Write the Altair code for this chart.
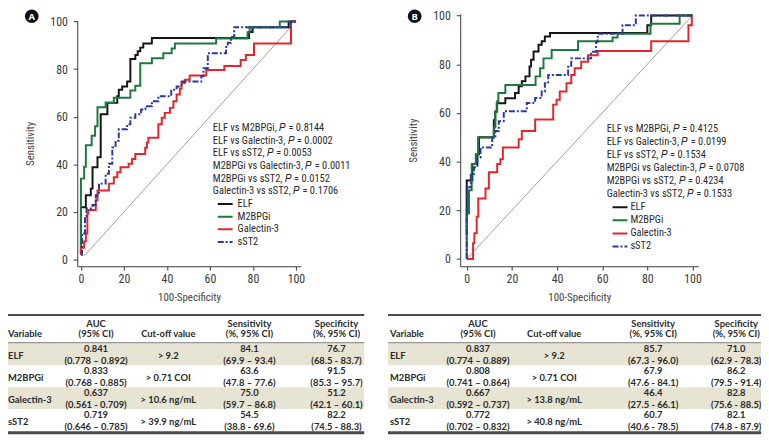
import altair as alt
import pandas as pd

W, H = 761, 434

# ------------------------------------------------------------------ data
SERIES = ["ELF", "M2BPGi", "Galectin-3", "sST2"]
TICKS = [0, 20, 40, 60, 80, 100]

# Panel A ROC curves (100-specificity, sensitivity) step vertices
A_ELF_X = [0, 0, 2.3, 4.6, 5.4, 7.7, 9.2, 12.3, 16.9, 17.6, 19.2, 21.5, 23, 25.3, 26.4, 27.6, 29, 33, 78.2, 79.8, 96.6, 100]
A_ELF_Y = [2, 22, 27, 29.8, 38.8, 43, 61, 65.8, 68.6, 71.3, 72.7, 74.8, 84.2, 85.9, 87.5, 89, 90.7, 93, 95.6, 97.6, 100, 100]
A_M2_X = [0, 0, 1.5, 2.3, 5, 6.6, 7.7, 11.5, 15.3, 23, 25.3, 27.6, 33, 38.3, 42.2, 43.7, 62.9, 77.5, 78.5, 92.5, 100]
A_M2_Y = [2, 34, 39, 48, 52, 56, 64, 66, 68, 71, 73, 82.4, 84.5, 86.6, 88.6, 90.7, 92.8, 95.5, 97.6, 100, 100]
A_GAL_X = [0, 0, 1.5, 2.3, 3, 3.5, 6.9, 7.7, 13, 15.3, 16.9, 18.4, 22.2, 23.8, 25.3, 29.9, 30.7, 31.4, 36, 37.6, 39, 41.4, 43, 44.5, 46, 46.8, 48.3, 50.6, 58.3, 66.7, 74.3, 76.7, 80.5, 97.7, 100]
A_GAL_Y = [2, 5, 7.6, 11, 19.4, 20.8, 24.9, 29, 31.9, 34.6, 36.7, 38.8, 40.2, 42.2, 44.3, 47, 49.2, 51.2, 56.8, 59.6, 61.6, 63.7, 66.5, 69.3, 71.7, 74.1, 75.5, 77.3, 79.6, 81.3, 83.8, 85.9, 90.7, 100, 100]
A_SST_X = [0, 0.5, 1.9, 2.6, 5.4, 6.9, 8.4, 11.5, 13, 14.6, 16.1, 17.6, 21.5, 23, 25.3, 28, 30, 33, 36, 42, 44.5, 46.8, 56, 57, 59, 67.5, 68.3, 69.8, 71.3, 97.4, 100]
A_SST_Y = [2, 11, 18, 21.5, 22.9, 27, 31.9, 36, 40.2, 47.1, 49.9, 54.7, 56.8, 59.6, 61, 63, 64.4, 66.5, 68.6, 71.3, 72.7, 74.8, 77, 80.3, 86.6, 89.3, 91, 93.5, 97.6, 100, 100]
A_DIAG = [1.5, 97.5]

# Panel B ROC curves
B_ELF_X = [0, 0, 2.5, 4.7, 5.4, 12, 12.6, 13.3, 17.1, 21.4, 23, 24.4, 26, 27.8, 28.5, 29.6, 31.8, 33.2, 34.6, 36.9, 80, 81.7, 100]
B_ELF_Y = [10, 32.2, 39, 43, 50, 57, 60.5, 64, 66, 68.2, 70.9, 73, 75, 79.1, 81.8, 85.2, 88, 89.4, 91.4, 92.8, 96, 100, 100]
B_M2_X = [0, 0, 1, 2.2, 4, 5, 12, 12.7, 13.5, 14, 17.1, 30.5, 32.5, 34, 37.6, 49.3, 64.6, 66.8, 81.4, 94.3, 100]
B_M2_Y = [0, 18.7, 28.2, 39, 43, 49.9, 54, 60.7, 64.8, 68.2, 71.5, 75, 78.3, 82.4, 85.8, 89.4, 91, 92.5, 96.6, 100, 100]
B_GAL_X = [0, 2.8, 3.4, 4.4, 5.1, 8.3, 9.8, 13.5, 14.9, 16, 23, 24.4, 30.3, 38.3, 39.8, 41.2, 44.2, 46.3, 47.8, 50.7, 53.7, 58, 81.7, 98.2, 99.7, 100]
B_GAL_Y = [0, 6.5, 10.6, 17.3, 24.8, 28.9, 35.6, 39, 41, 45.8, 49.2, 52.6, 57.3, 63.4, 65.4, 68.8, 72.2, 75.6, 78.3, 81, 83.7, 85.4, 89.4, 96, 100, 100]
B_SST_X = [0, 0, 1.8, 3.2, 4.7, 6.1, 11.3, 12.7, 14.2, 16.4, 26.6, 30.3, 33.2, 34.6, 36.1, 44.9, 46.3, 55.1, 57.3, 58, 69, 74.9, 100]
B_SST_Y = [0, 29.5, 35, 37.7, 41.7, 45.8, 49.9, 52.6, 56.6, 60.7, 64.1, 66.1, 68.8, 72.2, 75.6, 79, 82.4, 85.1, 89.2, 92.5, 96, 100, 100]
B_DIAG = [0, 100]

COMPARISONS = ["ELF vs M2BPGi", "ELF vs Galectin-3", "ELF vs sST2",
               "M2BPGi vs Galectin-3", "M2BPGi vs sST2", "Galectin-3 vs sST2"]
A_P = ["0.8144", "0.0002", "0.0053", "0.0011", "0.0152", "0.1706"]
B_P = ["0.4125", "0.0199", "0.1534", "0.0708", "0.4234", "0.1533"]

HEAD_1 = ["Variable", "AUC", "Cut-off value", "Sensitivity", "Specificity"]
HEAD_2 = ["", "(95% CI)", "", "(%, 95% CI)", "(%, 95% CI)"]

A_AUC = ["0.841", "0.833", "0.637", "0.719"]
A_AUC_CI = ["(0.778 \u2013 0.892)", "(0.768 - 0.885)", "(0.561 - 0.709)", "(0.646 \u2013 0.785)"]
A_CUT = ["> 9.2", "> 0.71 COI", "> 10.6 ng/mL", "> 39.9 ng/mL"]
A_SENS = ["84.1", "63.6", "75.0", "54.5"]
A_SENS_CI = ["(69.9 \u2013 93.4)", "(47.8 \u2013 77.6)", "(59.7 \u2013 86.8)", "(38.8 - 69.6)"]
A_SPEC = ["76.7", "91.5", "51.2", "82.2"]
A_SPEC_CI = ["(68.5 - 83.7)", "(85.3 \u2013 95.7)", "(42.1 \u2013 60.1)", "(74.5 - 88.3)"]

B_AUC = ["0.837", "0.808", "0.667", "0.772"]
B_AUC_CI = ["(0.774 \u2013 0.889)", "(0.741 \u2013 0.864)", "(0.592 \u2013 0.737)", "(0.702 \u2013 0.832)"]
B_CUT = ["> 9.2", "> 0.71 COI", "> 13.8 ng/mL", "> 40.8 ng/mL"]
B_SENS = ["85.7", "67.9", "46.4", "60.7"]
B_SENS_CI = ["(67.3 - 96.0)", "(47.6 - 84.1)", "(27.5 - 66.1)", "(40.6 - 78.5)"]
B_SPEC = ["71.0", "86.2", "82.8", "82.1"]
B_SPEC_CI = ["(62.9 - 78.3)", "(79.5 - 91.4)", "(75.6 - 88.5)", "(74.8 - 87.9)"]

# ------------------------------------------------------------------ style
COLORS = ["#151515", "#1d7a3e", "#e3262c", "#283a9c"]
DASHES = [[1, 0], [1, 0], [1, 0], [6, 2, 2, 2]]
NARROW = "Liberation Sans Narrow, Arial Narrow, Roboto Condensed, DejaVu Sans Condensed, sans-serif"
TFONT = "Lato"
TXT = "#2a2a2a"
AXC = "#3a3a3a"
SHADE = "#e8e4d3"

COLOR = alt.Color("series:N", scale=alt.Scale(domain=SERIES, range=COLORS), legend=None)
DASH = alt.StrokeDash("series:N", scale=alt.Scale(domain=SERIES, range=DASHES), legend=None)

GEO_A = dict(xdom=[-1.7, 102.3], xrng=[70, 296], ydom=[-2.8, 100.4], yrng=[258.7, 10.3],
             ann_x=207, ann_y=[119, 234.2], leg_x=[212, 227], leg_tx=232, badge=(24, 6), letter="A",
             tx0=0, tx1=360, cols=[0, 89, 162, 244, 332])
GEO_B = dict(xdom=[-2.9, 102.6], xrng=[457, 697.7], ydom=[-3.0, 100.65], yrng=[258.7, 3.7],
             ann_x=605, ann_y=[119.7, 238.7], leg_x=[611, 626], leg_tx=629, badge=(411, 6), letter="B",
             tx0=384, tx1=761, cols=[386, 475, 552, 652, 736])

T_TOP, T_H1, T_H2, T_HB, T_BOT = 308, 317, 327, 336, 427
ROW_RANGE = [336.5, 425.2]

dummy = pd.DataFrame({"k": [0]})


def curves_df(curves):
    rows = []
    for s, (xs, ys) in zip(SERIES, curves):
        for i, (x, y) in enumerate(zip(xs, ys)):
            rows.append({"series": s, "fpr": x, "tpr": y, "i": i})
    return pd.DataFrame(rows)


def roc_panel(curves, diag, g):
    xs = alt.Scale(domain=g["xdom"], range=g["xrng"], nice=False, zero=False)
    ys = alt.Scale(domain=g["ydom"], range=g["yrng"], nice=False, zero=False)
    common = dict(values=TICKS, grid=False, tickSize=4, domainColor=AXC, tickColor=AXC,
                  labelColor=AXC, labelFont=NARROW, labelFontSize=12, titleFont=NARROW,
                  titleFontSize=11, titleFontWeight="normal", titleColor="#444")
    xaxis = alt.Axis(orient="bottom", offset=g["yrng"][0] - H, title="100-Specificity",
                     labelPadding=3, titlePadding=8, **common)
    yaxis = alt.Axis(orient="left", offset=-g["xrng"][0], title="Sensitivity",
                     labelPadding=6, titlePadding=14, **common)
    ddf = pd.DataFrame({"fpr": diag, "tpr": diag})
    dline = alt.Chart(ddf).mark_line(color="#b79595", strokeWidth=1).encode(
        x=alt.X("fpr:Q", scale=xs, axis=xaxis), y=alt.Y("tpr:Q", scale=ys, axis=yaxis))
    lines = alt.Chart(curves_df(curves)).mark_line(interpolate="step-after", strokeWidth=2).encode(
        x=alt.X("fpr:Q", scale=xs, axis=xaxis), y=alt.Y("tpr:Q", scale=ys, axis=yaxis),
        color=COLOR, strokeDash=DASH, order=alt.Order("i:Q"))
    return alt.layer(dline, lines)


def annot_panel(pvals, g):
    n = len(COMPARISONS) + len(SERIES)
    ysc = alt.Scale(type="point", domain=list(range(n)), range=g["ann_y"], padding=0)
    tdf = pd.DataFrame({"row": list(range(len(COMPARISONS))),
                        "label": [f"{c}, \U0001D443 = {p}" for c, p in zip(COMPARISONS, pvals)]})
    ldf = pd.DataFrame({"row": [len(COMPARISONS) + k for k in range(len(SERIES))], "series": SERIES})
    t = alt.Chart(tdf).mark_text(align="left", baseline="middle", font=NARROW, fontSize=10.5, color=TXT).encode(
        x=alt.value(g["ann_x"]), y=alt.Y("row:O", scale=ysc, axis=None), text="label:N")
    r = alt.Chart(ldf).mark_rule(strokeWidth=2).encode(
        x=alt.value(g["leg_x"][0]), x2=alt.value(g["leg_x"][1]),
        y=alt.Y("row:O", scale=ysc, axis=None), color=COLOR, strokeDash=DASH)
    lt = alt.Chart(ldf).mark_text(align="left", baseline="middle", font=NARROW, fontSize=10.5, color=TXT).encode(
        x=alt.value(g["leg_tx"]), y=alt.Y("row:O", scale=ysc, axis=None), text="series:N")
    return alt.layer(t, r, lt)


def table_panel(vals, g):
    auc, auc_ci, cut, sens, sens_ci, spec, spec_ci = vals
    df = pd.DataFrame({"var": SERIES, "idx": list(range(len(SERIES))), "auc": auc, "auc_ci": auc_ci,
                       "cut": cut, "sens": sens, "sens_ci": sens_ci, "spec": spec, "spec_ci": spec_ci})
    yb = alt.Scale(type="band", domain=SERIES, range=ROW_RANGE, paddingInner=0, paddingOuter=0)
    Y = alt.Y("var:N", scale=yb, axis=None)
    c = g["cols"]
    layers = [
        alt.Chart(df).transform_filter("datum.idx % 2 == 0").mark_rect(color=SHADE).encode(
            x=alt.value(g["tx0"]), x2=alt.value(g["tx1"]), y=Y)
    ]
    base = dict(baseline="middle", font=TFONT, fontWeight="bold", fontSize=9.5, color=TXT)
    layers.append(alt.Chart(df).mark_text(align="left", dy=1.7, **base).encode(
        x=alt.value(c[0]), y=Y, text="var:N"))
    for col, (top, bot) in zip([c[1], c[3], c[4]], [("auc", "auc_ci"), ("sens", "sens_ci"), ("spec", "spec_ci")]):
        layers.append(alt.Chart(df).mark_text(align="center", dy=-4.9, **base).encode(
            x=alt.value(col), y=Y, text=f"{top}:N"))
        layers.append(alt.Chart(df).mark_text(align="center", dy=7.1, **base).encode(
            x=alt.value(col), y=Y, text=f"{bot}:N"))
    layers.append(alt.Chart(df).mark_text(align="center", dy=1.7, **base).encode(
        x=alt.value(c[2]), y=Y, text="cut:N"))
    # header
    hdf = pd.DataFrame({"h1": HEAD_1, "h2": HEAD_2, "col": list(range(5))})
    for k in range(5):
        al = "left" if k == 0 else "center"
        one = hdf[hdf["col"] == k]
        if HEAD_2[k]:
            layers.append(alt.Chart(one).mark_text(align=al, **base).encode(
                x=alt.value(c[k]), y=alt.value(T_H1), text="h1:N"))
            layers.append(alt.Chart(one).mark_text(align=al, **base).encode(
                x=alt.value(c[k]), y=alt.value(T_H2), text="h2:N"))
        else:
            layers.append(alt.Chart(one).mark_text(align=al, **base).encode(
                x=alt.value(c[k]), y=alt.value(T_H2), text="h1:N"))
    # rules
    layers.append(alt.Chart(dummy).mark_rule(color="#111", strokeWidth=1.6).encode(
        x=alt.value(g["tx0"]), x2=alt.value(g["tx1"]), y=alt.value(T_TOP)))
    layers.append(alt.Chart(dummy).mark_rule(color="#777", strokeWidth=1).encode(
        x=alt.value(g["tx0"]), x2=alt.value(g["tx1"]), y=alt.value(T_HB)))
    layers.append(alt.Chart(dummy).mark_rule(color="#4a4a4a", strokeWidth=3).encode(
        x=alt.value(g["tx0"]), x2=alt.value(g["tx1"]), y=alt.value(T_BOT)))
    return alt.layer(*layers)


def badge(g):
    bx, by = g["badge"]
    bdf = pd.DataFrame({"letter": [g["letter"]]})
    circ = alt.Chart(bdf).mark_point(shape="circle", filled=True, size=190, color="#111", opacity=1).encode(
        x=alt.value(bx), y=alt.value(by))
    let = alt.Chart(bdf).mark_text(color="white", font="Open Sans", fontWeight="bold", fontSize=9.5,
                                   baseline="middle", align="center", dy=0.5).encode(
        x=alt.value(bx), y=alt.value(by), text="letter:N")
    return alt.layer(circ, let)


A_CURVES = [(A_ELF_X, A_ELF_Y), (A_M2_X, A_M2_Y), (A_GAL_X, A_GAL_Y), (A_SST_X, A_SST_Y)]
B_CURVES = [(B_ELF_X, B_ELF_Y), (B_M2_X, B_M2_Y), (B_GAL_X, B_GAL_Y), (B_SST_X, B_SST_Y)]
A_VALS = (A_AUC, A_AUC_CI, A_CUT, A_SENS, A_SENS_CI, A_SPEC, A_SPEC_CI)
B_VALS = (B_AUC, B_AUC_CI, B_CUT, B_SENS, B_SENS_CI, B_SPEC, B_SPEC_CI)

chart = alt.layer(
    table_panel(A_VALS, GEO_A),
    table_panel(B_VALS, GEO_B),
    roc_panel(A_CURVES, A_DIAG, GEO_A),
    roc_panel(B_CURVES, B_DIAG, GEO_B),
    annot_panel(A_P, GEO_A),
    annot_panel(B_P, GEO_B),
    badge(GEO_A),
    badge(GEO_B),
).resolve_scale(x="independent", y="independent").properties(
    width=W, height=H, padding=0, autosize=alt.AutoSizeParams(type="none"),
    background="white",
).configure_view(stroke=None)

chart.save("out.html", embed_options={"renderer": "svg", "actions": False})
